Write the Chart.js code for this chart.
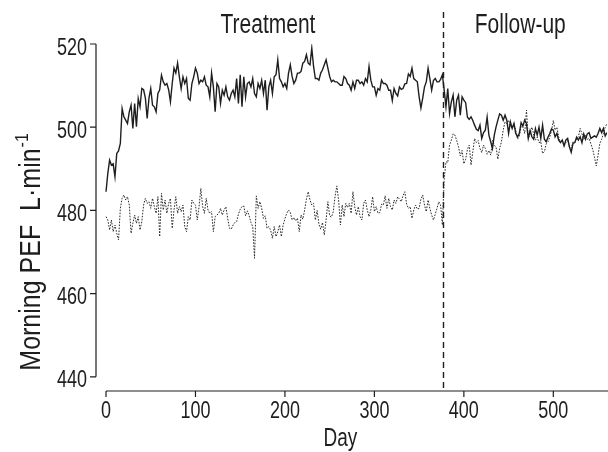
<!DOCTYPE html>
<html>
<head>
<meta charset="utf-8">
<script src="https://cdn.jsdelivr.net/npm/chart.js@4.4.1/dist/chart.umd.min.js"></script>
<style>
  html, body { margin: 0; padding: 0; background: #fff; }
  canvas { display: block; }
</style>
</head>
<body>
<canvas id="pefChart" width="608" height="452"></canvas>
<script>
// Day of study (every second day)
const days = [
    0,   2,   4,   6,   8,  10,  12,  14,  16,  18,  20,  22,  24,  26,  28,  30,  32,  34,  36,  38,
   40,  42,  44,  46,  48,  50,  52,  54,  56,  58,  60,  62,  64,  66,  68,  70,  72,  74,  76,  78,
   80,  82,  84,  86,  88,  90,  92,  94,  96,  98, 100, 102, 104, 106, 108, 110, 112, 114, 116, 118,
  120, 122, 124, 126, 128, 130, 132, 134, 136, 138, 140, 142, 144, 146, 148, 150, 152, 154, 156, 158,
  160, 162, 164, 166, 168, 170, 172, 174, 176, 178, 180, 182, 184, 186, 188, 190, 192, 194, 196, 198,
  200, 202, 204, 206, 208, 210, 212, 214, 216, 218, 220, 222, 224, 226, 228, 230, 232, 234, 236, 238,
  240, 242, 244, 246, 248, 250, 252, 254, 256, 258, 260, 262, 264, 266, 268, 270, 272, 274, 276, 278,
  280, 282, 284, 286, 288, 290, 292, 294, 296, 298, 300, 302, 304, 306, 308, 310, 312, 314, 316, 318,
  320, 322, 324, 326, 328, 330, 332, 334, 336, 338, 340, 342, 344, 346, 348, 350, 352, 354, 356, 358,
  360, 362, 364, 366, 368, 370, 372, 374, 376, 378, 380, 382, 384, 386, 388, 390, 392, 394, 396, 398,
  400, 402, 404, 406, 408, 410, 412, 414, 416, 418, 420, 422, 424, 426, 428, 430, 432, 434, 436, 438,
  440, 442, 444, 446, 448, 450, 452, 454, 456, 458, 460, 462, 464, 466, 468, 470, 472, 474, 476, 478,
  480, 482, 484, 486, 488, 490, 492, 494, 496, 498, 500, 502, 504, 506, 508, 510, 512, 514, 516, 518,
  520, 522, 524, 526, 528, 530, 532, 534, 536, 538, 540, 542, 544, 546, 548, 550, 552, 554, 556, 558,
  560
];

// solid line
const activePEF = [
  484.5, 488.9, 492.1, 490.9, 491.2, 488.1, 493.7, 494.3, 496.1, 504.5,
  502.5, 501.7, 500.9, 503.7, 505.3, 499.7, 505.7, 500.1, 506.9, 504.9,
  509.3, 509.0, 507.0, 502.1, 507.0, 509.3, 505.3, 504.9, 503.7, 508.1,
  509.0, 512.5, 510.9, 510.1, 510.5, 509.0, 506.1, 510.5, 514.2, 513.0,
  515.4, 512.1, 509.3, 512.1, 510.5, 511.7, 506.9, 506.5, 510.5, 512.1,
  514.2, 513.0, 510.5, 511.3, 510.9, 512.1, 510.1, 509.7, 507.3, 513.0,
  509.7, 503.7, 510.5, 509.7, 505.7, 508.9, 507.7, 509.7, 507.3, 506.5,
  508.1, 508.9, 507.3, 511.7, 505.7, 512.6, 504.9, 512.1, 507.3, 510.5,
  510.9, 509.7, 511.7, 508.1, 507.3, 510.5, 509.3, 511.3, 508.1, 511.3,
  504.1, 509.7, 511.3, 508.1, 512.1, 512.6, 516.2, 511.7, 510.9, 509.7,
  510.5, 509.3, 513.0, 515.0, 512.2, 510.5, 511.3, 513.0, 513.0, 513.4,
  515.4, 515.8, 517.4, 515.4, 515.0, 519.0, 514.6, 511.7, 511.7, 511.3,
  513.0, 513.8, 515.0, 516.2, 514.2, 512.2, 510.9, 511.3, 510.9, 510.9,
  510.5, 510.1, 510.1, 512.2, 511.7, 510.5, 510.1, 508.9, 510.9, 509.3,
  511.3, 511.3, 510.5, 510.9, 510.1, 511.7, 510.9, 514.6, 511.3, 509.7,
  509.7, 507.7, 509.3, 508.9, 511.3, 510.5, 510.5, 510.1, 508.9, 508.9,
  506.4, 509.3, 508.1, 507.5, 509.7, 509.1, 509.3, 510.4, 510.5, 512.8,
  512.2, 514.2, 511.7, 511.3, 510.9, 507.3, 504.6, 507.0, 509.7, 510.9,
  514.2, 511.7, 508.9, 511.2, 511.7, 510.9, 510.9, 511.5, 512.6, 508.9,
  504.9, 509.3, 503.3, 506.1, 507.7, 502.5, 506.5, 507.7, 502.9, 507.3,
  506.5, 505.9, 502.4, 501.9, 502.5, 501.6, 500.5, 499.5, 499.2, 500.5,
  497.3, 498.7, 499.3, 502.4, 498.1, 496.5, 494.9, 498.1, 500.1, 501.7,
  503.2, 502.9, 501.7, 502.9, 501.7, 498.5, 501.3, 499.7, 500.9, 498.5,
  497.7, 498.5, 501.1, 500.3, 501.7, 500.9, 497.3, 499.2, 497.7, 497.1,
  499.7, 498.1, 500.0, 497.3, 500.5, 497.1, 496.5, 497.6, 498.5, 499.6,
  499.3, 497.7, 498.5, 496.9, 496.3, 496.9, 495.5, 496.9, 497.3, 495.3,
  494.0, 496.1, 496.3, 497.6, 496.9, 497.7, 496.3, 498.4, 497.1, 498.4,
  498.7, 497.3, 497.6, 497.9, 497.6, 498.5, 499.7, 498.7, 499.7, 497.9,
  498.7
];

// dotted line
const controlPEF = [
  478.5, 477.7, 475.3, 477.7, 474.9, 476.5, 474.5, 472.9, 480.5, 482.9,
  483.7, 482.5, 483.3, 481.3, 474.5, 476.9, 478.9, 476.9, 478.5, 475.3,
  477.3, 481.3, 482.9, 481.7, 482.1, 480.5, 482.9, 480.9, 479.3, 483.3,
  473.7, 484.1, 480.1, 482.5, 479.3, 481.7, 482.9, 475.7, 480.1, 483.3,
  479.3, 480.9, 479.7, 481.3, 476.1, 474.9, 478.5, 477.7, 482.5, 481.7,
  481.3, 477.7, 480.9, 485.3, 480.9, 479.3, 482.9, 480.1, 479.3, 479.7,
  474.9, 478.5, 478.9, 479.3, 480.5, 478.9, 480.1, 480.9, 478.1, 475.7,
  475.5, 476.5, 477.1, 477.3, 479.1, 480.3, 480.9, 481.1, 478.7, 479.9,
  478.7, 477.1, 476.1, 468.5, 483.5, 480.5, 482.1, 480.5, 478.1, 478.7,
  475.7, 476.1, 475.3, 473.3, 476.1, 473.7, 474.9, 476.5, 473.7, 476.5,
  478.0, 479.3, 480.1, 479.5, 477.7, 478.3, 477.5, 478.1, 474.9, 478.9,
  477.9, 480.1, 482.7, 484.5, 482.5, 481.3, 481.7, 477.7, 480.0, 476.7,
  475.5, 477.1, 474.1, 477.7, 482.1, 478.7, 478.4, 479.7, 483.3, 485.9,
  482.5, 476.5, 481.3, 478.5, 481.7, 480.7, 481.7, 479.3, 484.5, 480.9,
  478.9, 480.9, 478.5, 477.7, 481.7, 482.5, 480.1, 478.5, 480.1, 483.3,
  479.7, 480.9, 479.3, 479.5, 481.5, 481.3, 483.5, 480.5, 482.9, 480.9,
  480.1, 482.5, 481.7, 483.3, 482.7, 482.1, 483.5, 484.5, 481.5, 480.5,
  480.9, 478.1, 480.1, 481.3, 480.3, 480.5, 482.7, 483.7, 481.3, 479.7,
  482.5, 480.5, 478.9, 477.7, 479.1, 480.5, 482.1, 481.3, 476.5, 487.5,
  491.7, 491.5, 495.7, 496.9, 498.4, 498.1, 496.8, 495.3, 493.1, 494.4,
  491.2, 492.3, 494.7, 495.7, 490.9, 494.1, 497.3, 496.3, 496.8, 494.9,
  493.9, 495.7, 494.9, 493.5, 494.4, 493.3, 496.8, 495.7, 495.2, 492.3,
  494.9, 496.5, 499.3, 501.3, 500.9, 501.7, 500.3, 499.7, 500.9, 499.2,
  497.1, 497.9, 500.3, 500.0, 498.5, 504.1, 497.3, 498.4, 500.0, 498.4,
  496.9, 497.6, 496.3, 496.5, 493.7, 494.1, 496.0, 496.5, 497.6, 499.2,
  501.6, 499.3, 500.0, 497.6, 496.3, 496.8, 495.5, 496.3, 496.8, 495.2,
  494.9, 496.5, 496.3, 497.2, 497.7, 499.7, 498.4, 497.1, 498.1, 497.1,
  497.3, 496.0, 494.7, 492.8, 490.7, 493.3, 496.1, 497.1, 498.5, 500.0,
  500.9
];

const xTicks = [0, 100, 200, 300, 400, 500];
const yTicks = [440, 460, 480, 500, 520];
const phaseNames = ["Treatment", "Follow-up"];
const phaseCentres = [181, 463];   // day under the middle of each heading
const followUpDay = 377;

const FONT = "'Liberation Sans', Arial, sans-serif";
const INK = "#1e1e1e";
const STRETCH = 1.32;   // the figure's lettering is tall and narrow

function toPoints(values) {
    return days.map((d, i) => ({ x: d, y: values[i] }));
}

function tallText(ctx, text, x, y, size, align) {
    ctx.save();
    ctx.translate(x, y);
    ctx.scale(1, STRETCH);
    ctx.font = size + "px " + FONT;
    ctx.textAlign = align;
    ctx.textBaseline = "alphabetic";
    ctx.fillText(text, 0, 0);
    ctx.restore();
}

// axes, ticks, divider and headings are drawn by hand so they can sit apart
// from each other the way the original figure has them
const figureFrame = {
    id: "figureFrame",
    beforeDatasetsDraw(chart) {
        const { ctx, chartArea: area, scales: { x } } = chart;
        const px = Math.round(x.getPixelForValue(followUpDay)) + 0.5;
        ctx.save();
        ctx.strokeStyle = INK;
        ctx.lineWidth = 1.4;
        ctx.setLineDash([6, 4]);
        ctx.beginPath();
        ctx.moveTo(px, 12);
        ctx.lineTo(px, area.bottom);
        ctx.stroke();
        ctx.restore();
    },
    afterDraw(chart) {
        const { ctx, chartArea: area, scales: { x, y } } = chart;
        ctx.save();
        ctx.strokeStyle = INK;
        ctx.fillStyle = INK;
        ctx.lineWidth = 1.2;

        // y axis only covers the labelled range
        const yTop = y.getPixelForValue(yTicks[yTicks.length - 1]);
        const yBottom = y.getPixelForValue(yTicks[0]);
        ctx.beginPath();
        ctx.moveTo(area.left, yTop);
        ctx.lineTo(area.left, yBottom);
        yTicks.forEach(v => {
            const p = y.getPixelForValue(v);
            ctx.moveTo(area.left - 6, p);
            ctx.lineTo(area.left, p);
        });
        // x axis starts at day 0
        ctx.moveTo(x.getPixelForValue(0), area.bottom);
        ctx.lineTo(area.right + 1, area.bottom);
        xTicks.forEach(v => {
            const p = x.getPixelForValue(v);
            ctx.moveTo(p, area.bottom);
            ctx.lineTo(p, area.bottom + 6);
        });
        ctx.stroke();

        yTicks.forEach(v => tallText(ctx, String(v), area.left - 9, y.getPixelForValue(v) + 10.5, 18, "right"));
        xTicks.forEach(v => tallText(ctx, String(v), x.getPixelForValue(v), area.bottom + 27, 18, "center"));
        tallText(ctx, "Day", x.getPixelForValue(262), 446, 19, "center");
        phaseNames.forEach((name, i) =>
            tallText(ctx, name, x.getPixelForValue(phaseCentres[i]), 33, 21, "center"));

        // rotated y title with superscript, same tall lettering
        ctx.translate(40, (yTop + yBottom) / 2 + 42);
        ctx.rotate(-Math.PI / 2);
        ctx.scale(1, 1.2);
        ctx.font = "25px " + FONT;
        const main = "Morning PEF  L\u00b7min";
        const wMain = ctx.measureText(main).width;
        ctx.font = "16px " + FONT;
        const wSup = ctx.measureText("-1").width;
        const start = -(wMain + wSup) / 2;
        ctx.textAlign = "left";
        ctx.font = "25px " + FONT;
        ctx.fillText(main, start, 0);
        ctx.font = "16px " + FONT;
        ctx.fillText("-1", start + wMain + 1, -10);
        ctx.restore();
    }
};

new Chart(document.getElementById("pefChart"), {
    type: "line",
    data: {
        datasets: [
            {
                label: "Active",
                data: toPoints(activePEF),
                borderColor: INK,
                borderWidth: 1.4,
                pointRadius: 0,
                tension: 0
            },
            {
                label: "Control",
                data: toPoints(controlPEF),
                borderColor: "#2a2a2a",
                borderWidth: 1,
                borderDash: [1.6, 1.4],
                pointRadius: 0,
                tension: 0
            }
        ]
    },
    options: {
        responsive: false,
        animation: false,
        devicePixelRatio: 1,
        layout: { padding: { left: 96, right: 1, top: 44, bottom: 61 } },
        plugins: { legend: { display: false }, tooltip: { enabled: false } },
        scales: {
            x: { type: "linear", min: -11.2, max: 560, display: false },
            y: { type: "linear", min: 436.6, max: 520, display: false }
        }
    },
    plugins: [figureFrame]
});
</script>
</body>
</html>
